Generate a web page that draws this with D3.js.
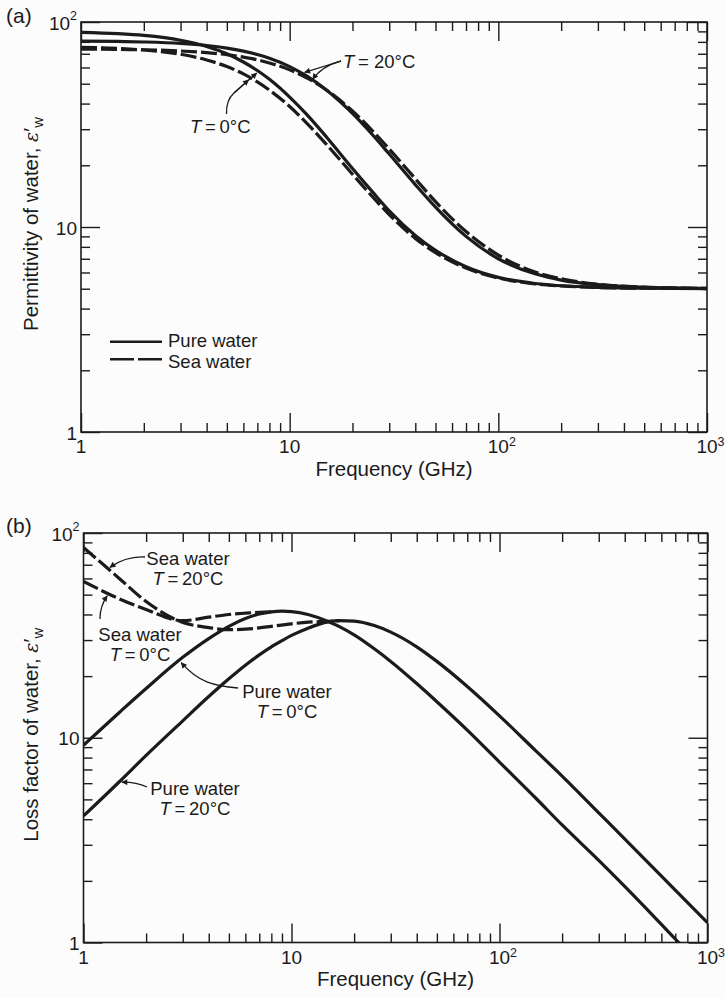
<!DOCTYPE html>
<html>
<head>
<meta charset="utf-8">
<script src="https://cdn.jsdelivr.net/npm/d3@7"></script>
<style>
  body { margin: 0; background: #fcfcfc; }
  svg { display: block; font-family: "Liberation Sans", Arial, Helvetica, sans-serif; }
</style>
</head>
<body>
<script>
// ---------- data ----------
// (a) real part of the permittivity, frequency in GHz
const freqPerm   = [1, 1.5, 2, 3, 4, 5, 6, 7, 8, 10, 12, 15, 20, 25, 30, 40, 50, 70, 100, 150, 200, 300, 500, 1000];
const permPure0  = [89.0, 87.7, 86.0, 81.5, 76.0, 70.0, 63.8, 58.0, 52.5, 43.0, 35.6, 27.5, 19.3, 14.8, 12.0, 9.1, 7.7, 6.4, 5.68, 5.30, 5.17, 5.08, 5.03, 5.01];
const permSea0   = [75.2, 74.3, 73.0, 69.6, 65.3, 60.6, 55.8, 51.0, 46.5, 38.7, 32.3, 25.3, 18.1, 14.0, 11.5, 8.8, 7.5, 6.3, 5.64, 5.28, 5.16, 5.07, 5.03, 5.01];
const permPure20 = [80.7, 80.4, 79.9, 78.6, 76.8, 74.6, 72.1, 69.4, 66.5, 60.6, 54.7, 46.6, 35.8, 28.1, 22.7, 16.1, 12.5, 9.0, 7.0, 5.91, 5.51, 5.23, 5.08, 5.02];
const permSea20  = [73.8, 73.5, 73.2, 72.2, 70.9, 69.3, 67.4, 65.4, 63.1, 58.4, 53.6, 46.6, 36.8, 29.4, 24.0, 17.2, 13.3, 9.5, 7.3, 6.03, 5.59, 5.26, 5.09, 5.02];

// (b) loss factor
const freqLoss   = [1, 1.5, 2, 3, 4, 5, 6, 7, 8, 9, 10, 12, 15, 17, 20, 25, 30, 40, 50, 70, 100, 150, 200, 300, 500, 700, 1000];
const lossPure0  = [9.2, 13.4, 17.4, 24.7, 30.5, 35.0, 38.2, 40.2, 41.2, 41.5, 41.3, 40.0, 37.0, 34.9, 31.8, 27.2, 23.6, 18.4, 15.0, 10.9, 7.6, 5.05, 3.75, 2.52, 1.49, 1.04, 0.72];
const lossPure20 = [4.15, 6.15, 8.2, 12.1, 15.9, 19.4, 22.6, 25.4, 27.8, 29.8, 31.6, 34.3, 36.8, 37.3, 37.1, 35.3, 32.8, 27.8, 23.6, 17.8, 12.8, 8.6, 6.5, 4.3, 2.55, 1.80, 1.25];
const freqSea20  = [1, 1.5, 2, 3, 4, 5, 6, 7, 8, 10, 12, 15, 17];
const lossSea20  = [85, 59.5, 46.3, 36.6, 34.5, 33.7, 33.9, 34.4, 35.0, 36.0, 36.7, 37.0, 37.3];
const freqSea0   = [1, 1.5, 2, 3, 4, 5, 6, 7, 8];
const lossSea0   = [58, 47.5, 42.3, 37.3, 38.8, 40.0, 40.6, 41.0, 41.2];

// axes
const xTicks = [1, 10, 100, 1000];
const xTickLabels = [["1", ""], ["10", ""], ["10", "2"], ["10", "3"]];
const yTicks = [1, 10, 100];
const yTickLabels = [["1", ""], ["10", ""], ["10", "2"]];
const minorMantissa = [2, 3, 4, 5, 6, 7, 8, 9];

// ---------- drawing ----------
const W = 725, H = 998;
const INK = "#1b1b1b";
const svg = d3.select("body").append("svg").attr("width", W).attr("height", H);
const defs = svg.append("defs");
defs.append("marker")
  .attr("id", "arrow").attr("viewBox", "0 0 10 10")
  .attr("refX", 9).attr("refY", 5)
  .attr("markerWidth", 8).attr("markerHeight", 6)
  .attr("markerUnits", "userSpaceOnUse").attr("orient", "auto")
  .append("path").attr("d", "M0,0 L10,5 L0,10 z").attr("fill", INK);

const zip = (fs, vs) => fs.map((f, i) => [f, vs[i]]);

// log-log interpolation along a series, used to put arrow tips on a curve
function valueAt(fs, vs, f) {
  let i = d3.bisectRight(fs, f) - 1;
  i = Math.max(0, Math.min(i, fs.length - 2));
  const t = (Math.log(f) - Math.log(fs[i])) / (Math.log(fs[i + 1]) - Math.log(fs[i]));
  return Math.exp(Math.log(vs[i]) + t * (Math.log(vs[i + 1]) - Math.log(vs[i])));
}

function drawPanel(cfg) {
  const x = d3.scaleLog().domain([1, 1000]).range([cfg.left, cfg.right]);
  const y = d3.scaleLog().domain([1, 100]).range([cfg.bottom, cfg.top]);
  const g = svg.append("g");
  const w = cfg.right - cfg.left, h = cfg.bottom - cfg.top;

  defs.append("clipPath").attr("id", "clip-" + cfg.id)
    .append("rect").attr("x", cfg.left).attr("y", cfg.top).attr("width", w).attr("height", h);

  // inward ticks on all four sides
  const minorX = [1, 10, 100].flatMap(d => minorMantissa.map(m => m * d));
  const minorY = [1, 10].flatMap(d => minorMantissa.map(m => m * d));
  const tickSet = (axis, scale, vals, len, tr) => {
    g.append("g").attr("transform", tr)
      .call(axis(scale).tickValues(vals).tickSize(-len).tickSizeOuter(0).tickFormat(""))
      .call(s => s.select(".domain").remove())
      .call(s => s.selectAll("text").remove())
      .selectAll("line").attr("stroke", INK).attr("stroke-width", 1.4);
  };
  [[d3.axisBottom, `translate(0,${cfg.bottom})`], [d3.axisTop, `translate(0,${cfg.top})`]].forEach(([a, tr]) => {
    tickSet(a, x, xTicks, 19, tr);
    tickSet(a, x, minorX, 9, tr);
  });
  [[d3.axisLeft, `translate(${cfg.left},0)`], [d3.axisRight, `translate(${cfg.right},0)`]].forEach(([a, tr]) => {
    tickSet(a, y, yTicks, 19, tr);
    tickSet(a, y, minorY, 9, tr);
  });

  g.append("rect").attr("x", cfg.left).attr("y", cfg.top).attr("width", w).attr("height", h)
    .attr("fill", "none").attr("stroke", INK).attr("stroke-width", 1.6);

  // tick labels
  xTicks.forEach((v, i) => {
    const [base, sup] = xTickLabels[i];
    const t = g.append("text").attr("y", cfg.bottom + 21).attr("font-size", 19).attr("fill", INK);
    const b = t.append("tspan").text(base);
    if (sup) {
      const bw = b.node().getComputedTextLength();
      t.attr("x", x(v) - bw / 2);
      t.append("tspan").attr("dy", -7).attr("font-size", 12.5).text(sup);
    } else {
      t.attr("x", x(v)).attr("text-anchor", "middle");
    }
  });
  yTicks.forEach((v, i) => {
    const [base, sup] = yTickLabels[i];
    const t = g.append("text").attr("x", cfg.left - 4).attr("y", y(v) + 7.5)
      .attr("text-anchor", "end").attr("font-size", 19).attr("fill", INK);
    t.append("tspan").text(base);
    if (sup) t.append("tspan").attr("dy", -10).attr("font-size", 12.5).text(sup);
  });

  // axis titles
  g.append("text").attr("x", (cfg.left + cfg.right) / 2).attr("y", cfg.xTitleY)
    .attr("text-anchor", "middle").attr("font-size", 20.5).attr("fill", INK)
    .text("Frequency (GHz)");
  const yt = g.append("text")
    .attr("transform", `translate(38,${(cfg.top + cfg.bottom) / 2 - 3}) rotate(-90)`)
    .attr("text-anchor", "middle").attr("font-size", 20.5).attr("fill", INK);
  yt.append("tspan").text(cfg.yTitle);
  yt.append("tspan").attr("font-style", "italic").attr("font-family", "DejaVu Serif, serif").attr("font-size", 19).text("ε");
  yt.append("tspan").text("′");
  yt.append("tspan").attr("dy", 5).attr("font-size", 15).text("w");

  g.append("text").attr("x", 6).attr("y", cfg.labelY).attr("font-size", 21).attr("fill", INK).text(cfg.label);

  // curves
  const line = d3.line().x(d => x(d[0])).y(d => y(d[1])).curve(d3.curveMonotoneX);
  const curves = g.append("g").attr("clip-path", `url(#clip-${cfg.id})`);
  cfg.series.forEach(s => {
    curves.append("path").datum(zip(s.f, s.v)).attr("d", line)
      .attr("fill", "none").attr("stroke", INK).attr("stroke-width", 3.2)
      .attr("stroke-linejoin", "round")
      .attr("stroke-dasharray", s.dashed ? "16,4" : null);
  });

  return { g, x, y };
}

// T = ...°C line with italic T
function tempText(sel, str) {
  sel.append("tspan").attr("font-style", "italic").text("T");
  sel.append("tspan").text(str);
}

// ---------- panel (a) ----------
const A = drawPanel({
  id: "a", left: 81, right: 707, top: 22, bottom: 432,
  xTitleY: 476, labelY: 23, label: "(a)",
  yTitle: "Permittivity of water, ",
  series: [
    { f: freqPerm, v: permPure0 },
    { f: freqPerm, v: permPure20 },
    { f: freqPerm, v: permSea0, dashed: true },
    { f: freqPerm, v: permSea20, dashed: true }
  ]
});

// legend
const legend = A.g.append("g");
[["Pure water", null, 341.7, 346.5], ["Sea water", "24,4", 359.3, 368]].forEach(([name, dash, ly, ty]) => {
  legend.append("line").attr("x1", 110).attr("x2", 162).attr("y1", ly).attr("y2", ly)
    .attr("stroke", INK).attr("stroke-width", 2.6).attr("stroke-dasharray", dash);
  legend.append("text").attr("x", 168).attr("y", ty).attr("font-size", 18.5).attr("fill", INK).text(name);
});

function tip(P, fs, vs, f, off) {
  return [P.x(f), P.y(valueAt(fs, vs, f)) + off];
}
function arrow(P, d) {
  P.g.append("path").attr("d", d).attr("fill", "none").attr("stroke", INK)
    .attr("stroke-width", 1.3).attr("marker-end", "url(#arrow)");
}

// T = 20°C annotation
tempText(A.g.append("text").attr("x", 343).attr("y", 68).attr("font-size", 18.5).attr("fill", INK), "\u2009= 20°C");
{
  const t1 = tip(A, freqPerm, permPure20, 11.8, -2.5);
  const t2 = tip(A, freqPerm, permSea20, 12.9, -2.5);
  arrow(A, `M341,61 L${t1[0]},${t1[1]}`);
  arrow(A, `M341,61 Q322,66 ${t2[0]},${t2[1]}`);
}
// T = 0°C annotation
tempText(A.g.append("text").attr("x", 190).attr("y", 133).attr("font-size", 18.5).attr("fill", INK), "\u2009=\u20090°C");
{
  const t1 = tip(A, freqPerm, permPure0, 6.95, 3);
  const t2 = tip(A, freqPerm, permSea0, 6.35, 3);
  A.g.append("path").attr("d", "M226.5,114 Q226,100 234,93").attr("fill", "none").attr("stroke", INK).attr("stroke-width", 1.3);
  arrow(A, `M234,93 L${t1[0]},${t1[1]}`);
  arrow(A, `M234,93 L${t2[0]},${t2[1]}`);
}

// ---------- panel (b) ----------
const B = drawPanel({
  id: "b", left: 83.5, right: 707.5, top: 533, bottom: 942.5,
  xTitleY: 986, labelY: 533, label: "(b)",
  yTitle: "Loss factor of water, ",
  series: [
    { f: freqLoss, v: lossPure0 },
    { f: freqLoss, v: lossPure20 },
    { f: freqSea20, v: lossSea20, dashed: true },
    { f: freqSea0, v: lossSea0, dashed: true }
  ]
});

function twoLine(P, cx, y1, name, temp) {
  P.g.append("text").attr("x", cx).attr("y", y1).attr("text-anchor", "middle")
    .attr("font-size", 18.5).attr("fill", INK).text(name);
  tempText(P.g.append("text").attr("x", cx).attr("y", y1 + 20).attr("text-anchor", "middle")
    .attr("font-size", 18.5).attr("fill", INK), temp);
}

twoLine(B, 188, 565, "Sea water", "\u2009=\u200920°C");
{
  const t = tip(B, freqSea20, lossSea20, 1.34, -3);
  arrow(B, `M145,557 Q126,556 ${t[0]},${t[1]}`);
}
twoLine(B, 140, 641, "Sea water", "\u2009=\u20090°C");
{
  const t = tip(B, freqSea0, lossSea0, 1.3, 3);
  arrow(B, `M100,619 Q100,606 ${t[0]},${t[1]}`);
}
twoLine(B, 287, 698, "Pure water", "\u2009=\u20090°C");
{
  const t = tip(B, freqLoss, lossPure0, 2.95, 4);
  arrow(B, `M238,688 C214,686 198,682 ${t[0]},${t[1]}`);
}
twoLine(B, 195, 795, "Pure water", "\u2009=\u200920°C");
{
  const t = tip(B, freqLoss, lossPure20, 1.53, 3);
  arrow(B, `M147,787 Q136,782 ${t[0]},${t[1]}`);
}
</script>
</body>
</html>
